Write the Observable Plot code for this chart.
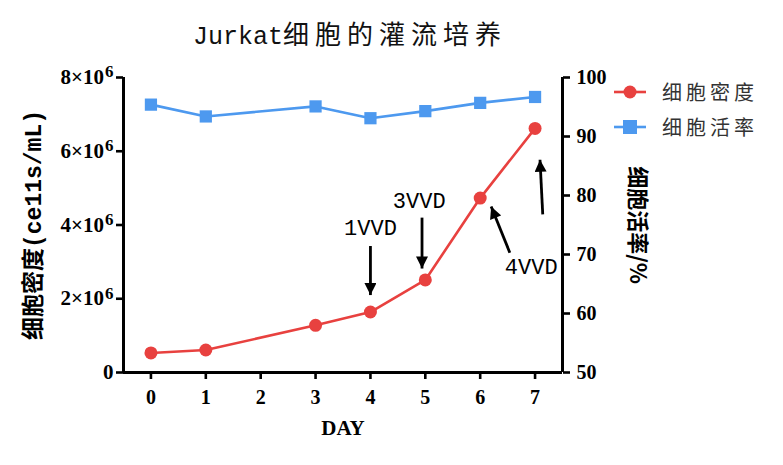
<!DOCTYPE html>
<html><head><meta charset="utf-8">
<script src="https://cdn.jsdelivr.net/npm/d3@7"></script>
<script src="https://cdn.jsdelivr.net/npm/@observablehq/plot@0.6"></script>
<style>
body{margin:0;background:#fff;width:783px;height:465px;overflow:hidden;position:relative}
#title{height:58px;position:relative}
#title span.t{position:absolute;left:193px;top:14px;font-size:25px;color:#111;white-space:nowrap}
.lat{font-family:"Liberation Mono",monospace}
.cjk{font-family:"Noto Sans CJK SC",sans-serif;letter-spacing:6px;font-size:26px}
#legend{position:absolute;left:612px;top:74px;font-family:"Noto Sans CJK SC",sans-serif;font-size:20px;color:#333}
#legend div{height:35px;display:flex;align-items:center}
#legend span{letter-spacing:4px;margin-left:14px}
</style></head><body>
<div id="title"><span class="t"><span class="lat">Jurkat</span><span class="cjk">细胞的灌流培养</span></span></div>
<div id="chart"></div>
<div id="legend"></div>
<script>
const days = [0, 1, 3, 4, 5, 6, 7];
const density = [0.53, 0.61, 1.28, 1.64, 2.51, 4.73, 6.62]; // ×10^6 cells/mL
const viability = [95.4, 93.4, 95.1, 93.1, 94.3, 95.7, 96.7]; // %
const xTicks = [0, 1, 2, 3, 4, 5, 6, 7];
const leftTicks = [0, 2, 4, 6, 8];
const rightTicks = [50, 60, 70, 80, 90, 100];
const seriesNames = ["细胞密度", "细胞活率"];
const colors = ["#E8413F", "#4D99EF"];
// annotation arrows (data coordinates: day, ×10^6)
const arrows = [
  {x1: 4.0, y1: 3.43, x2: 4.0, y2: 2.1},
  {x1: 4.94, y1: 4.2, x2: 4.94, y2: 2.82},
  {x1: 6.54, y1: 3.25, x2: 6.2, y2: 4.5},
  {x1: 7.14, y1: 4.29, x2: 7.09, y2: 5.77}
];
const labels = [
  {x: 4.0, y: 3.92, text: "1VVD"},
  {x: 4.89, y: 4.65, text: "3VVD"},
  {x: 6.93, y: 2.85, text: "4VVD"}
];

const toLeft = v => (v - 50) / 50 * 8;
const densRows = days.map((d, i) => ({day: d, v: density[i]}));
const viaRows = days.map((d, i) => ({day: d, v: toLeft(viability[i])}));

const tickFont = {fontFamily: "'Liberation Serif', serif", fontWeight: "bold", fontSize: 20};

const chart = Plot.plot({
  width: 783,
  height: 407,
  marginLeft: 123,
  marginRight: 221,
  marginTop: 19,
  marginBottom: 93,
  x: {domain: [-0.5, 7.5]},
  y: {domain: [0, 8]},
  style: {fontFamily: "'Liberation Serif', serif", color: "#000", background: "#fff", overflow: "visible"},
  marks: [
    Plot.axisY({ticks: leftTicks, tickSize: 7, tickPadding: 3, strokeWidth: 2.6,
      tickFormat: d => d === 0 ? "0" : d + "×10|6", label: null, ...tickFont, fontSize: 21}),
    Plot.axisY({anchor: "right", ticks: rightTicks.map(toLeft), tickSize: 7, tickPadding: 7, strokeWidth: 2.6,
      tickFormat: d => String(Math.round(d / 8 * 50 + 50)), label: null, ...tickFont}),
    Plot.axisX({ticks: xTicks, tickSize: 7, tickPadding: 10, strokeWidth: 2.6,
      tickFormat: d => String(d), label: null, ...tickFont}),
    Plot.ruleX([-0.5], {y1: 0, y2: 8, strokeWidth: 3}),
    Plot.ruleX([7.5], {y1: 0, y2: 8, strokeWidth: 3}),
    Plot.ruleY([0], {x1: -0.5, x2: 7.5, strokeWidth: 3}),
    Plot.line(viaRows, {x: "day", y: "v", stroke: colors[1], strokeWidth: 2.6}),
    Plot.dot(viaRows, {x: "day", y: "v", fill: colors[1], symbol: "square", r: 6.9}),
    Plot.line(densRows, {x: "day", y: "v", stroke: colors[0], strokeWidth: 2.6}),
    Plot.dot(densRows, {x: "day", y: "v", fill: colors[0], r: 6.5}),
    Plot.link(arrows, {x1: "x1", y1: "y1", x2: "x2", y2: "y2", stroke: "#000", strokeWidth: 2.8}),
    Plot.text(labels, {x: "x", y: "y", text: "text", fontFamily: "'Liberation Mono', monospace", fontSize: 22, fill: "#000"}),
    Plot.text(["DAY"], {frameAnchor: "bottom", dy: 62, fontFamily: "'Liberation Serif', serif", fontWeight: "bold", fontSize: 21}),
    Plot.text(["细胞密度(ce11s/mL)"], {frameAnchor: "left", textAnchor: "middle", dx: -90, rotate: -90, fontFamily: "'Liberation Mono', 'Noto Sans CJK SC', monospace", fontWeight: "bold", fontSize: 23}),
    Plot.text(["细胞活率/%"], {frameAnchor: "right", textAnchor: "middle", dx: 75, rotate: 90, fontFamily: "'Noto Sans CJK SC', sans-serif", fontWeight: "bold", fontSize: 22})
  ]
});
document.getElementById("chart").appendChild(chart);

const svg = d3.select(chart);
// superscript exponents on left tick labels
svg.selectAll("text").each(function() {
  const t = d3.select(this);
  const s = t.text();
  if (s.includes("×10|")) {
    const [base, exp] = s.split("|");
    t.text(null);
    t.append("tspan").text(base);
    t.append("tspan").attr("dx", 1).attr("dy", "-0.4em").attr("font-size", 17).text(exp);
  }
});

// filled arrowheads
const defs = svg.append("defs");
defs.append("marker").attr("id", "ahead").attr("viewBox", "0 0 10 10")
  .attr("refX", 10).attr("refY", 5).attr("markerUnits", "userSpaceOnUse")
  .attr("markerWidth", 14).attr("markerHeight", 12).attr("orient", "auto")
  .append("path").attr("d", "M0,0L10,5L0,10Z").attr("fill", "#000");
svg.selectAll("g[aria-label='link'] path").attr("marker-end", "url(#ahead)");

// legend
const lg = d3.select("#legend");
seriesNames.forEach((name, i) => {
  const row = lg.append("div");
  const s = row.append("svg").attr("width", 36).attr("height", 16);
  s.append("line").attr("x1", 2).attr("x2", 34).attr("y1", 8).attr("y2", 8).attr("stroke", colors[i]).attr("stroke-width", 2.6);
  if (i === 0) s.append("circle").attr("cx", 18).attr("cy", 8).attr("r", 6.5).attr("fill", colors[i]);
  else s.append("rect").attr("x", 11).attr("y", 1).attr("width", 14).attr("height", 14).attr("fill", colors[i]);
  row.append("span").text(name);
});
</script>
</body></html>
